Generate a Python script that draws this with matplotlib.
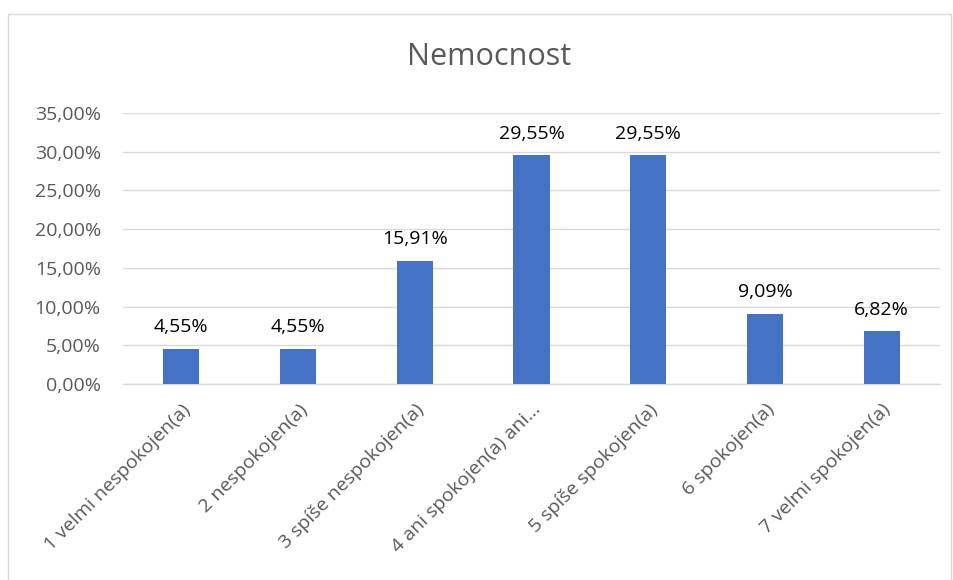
import matplotlib.pyplot as plt
from matplotlib.patches import Rectangle

categories = ["1 velmi nespokojen(a)", "2 nespokojen(a)", "3 spíše nespokojen(a)",
              "4 ani spokojen(a) ani…", "5 spíše spokojen(a)", "6 spokojen(a)",
              "7 velmi spokojen(a)"]
values = [4.55, 4.55, 15.91, 29.55, 29.55, 9.09, 6.82]
yticks = [0, 5, 10, 15, 20, 25, 30, 35]

plt.rcParams['font.family'] = ['Open Sans', 'DejaVu Sans']
grey = '#595959'

fig = plt.figure(figsize=(9.54, 5.8), dpi=100)
fig.patches.append(Rectangle((8 / 954, -0.01), 943 / 954, 1 - 14 / 580 + 0.01,
                             transform=fig.transFigure, fill=False,
                             edgecolor='#d9d9d9', linewidth=1))

ax = fig.add_axes([123 / 954, 1 - 384 / 580, 817 / 954, 271 / 580])
x = range(len(categories))
bars = ax.bar(x, values, width=0.31, color='#4472c4', zorder=3)
for xi, v in zip(x, values):
    ax.text(xi, v + 1.6, f"{v:.2f}%".replace('.', ','), ha='center', va='bottom',
            fontsize=14, color='black')

ax.set_xlim(-0.5, len(categories) - 0.5)
ax.set_ylim(0, 35)
ax.set_yticks(yticks)
ax.set_yticklabels([f"{t:.2f}%".replace('.', ',') for t in yticks], fontsize=14, color=grey)
ax.set_xticks(list(x))
ax.set_xticklabels(categories, rotation=45, ha='right', rotation_mode='anchor',
                   fontsize=14, color=grey)
ax.grid(axis='y', color='#d9d9d9', linewidth=1, zorder=0)
ax.tick_params(length=0)
ax.tick_params(axis='y', pad=16)
ax.tick_params(axis='x', pad=12)
for side in ['top', 'right', 'left']:
    ax.spines[side].set_visible(False)
ax.spines['bottom'].set_color('#d9d9d9')
ax.spines['bottom'].set_linewidth(1)

fig.text(489 / 954, 1 - 57 / 580, "Nemocnost", ha='center', va='center',
         fontsize=22, color=grey)

fig.savefig('out.png', dpi=100)
